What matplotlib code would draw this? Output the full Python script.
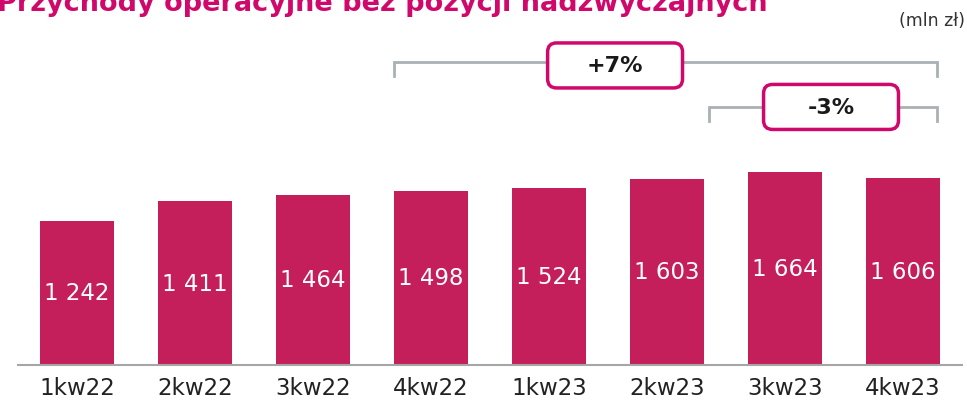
import matplotlib.pyplot as plt
from matplotlib.patches import FancyBboxPatch

# data
quarters = ['1kw22', '2kw22', '3kw22', '4kw22', '1kw23', '2kw23', '3kw23', '4kw23']
revenue = [1242, 1411, 1464, 1498, 1524, 1603, 1664, 1606]
labels = ['1 242', '1 411', '1 464', '1 498', '1 524', '1 603', '1 664', '1 606']

# comparison brackets: (text, first bar, last bar, level)
changes = [('+7%', 3, 7, 2604), ('-3%', 6, 7, 2221)]

bar_color = '#C41F5B'
pink = '#D1086B'
grey = '#A9B1B6'

W, H = 967, 410
fig = plt.figure(figsize=(W / 100, H / 100), dpi=100)
ax = fig.add_axes([18 / W, 44 / H, 944 / W, 366 / H])

x = list(range(len(quarters)))
bw = 0.62
ax.bar(x, revenue, width=bw, color=bar_color, zorder=2)

for i, (v, lab) in enumerate(zip(revenue, labels)):
    ax.text(i, v / 2, lab, ha='center', va='center', color='white', fontsize=16.5)

ax.set_xlim(-0.5, 7.5)
ax.set_ylim(0, 3150)
ax.set_xticks(x)
ax.set_xticklabels(quarters, fontsize=16.5, color='#222222')
ax.tick_params(axis='x', length=0, pad=8)
ax.set_yticks([])
for s in ['top', 'left', 'right']:
    ax.spines[s].set_visible(False)
ax.spines['bottom'].set_color('#A6A6A6')
ax.spines['bottom'].set_linewidth(1.5)

# brackets with rounded boxes
ypx = 3150 / 366  # data units per pixel vertically
xpx = 1 / 118.07  # data units per pixel horizontally
box_centers = {'+7%': 4.56, '-3%': 6.39}
for text, a, b, lvl in changes:
    left = a - bw / 2 if text == '+7%' else (a - 1) + bw / 2 + 0.05
    right = b + bw / 2 - 0.02
    drop = 14 * ypx
    ax.plot([left, left, right, right], [lvl - drop, lvl, lvl, lvl - drop],
            color=grey, lw=2, clip_on=False, zorder=1, solid_joinstyle='miter')
    cx = box_centers[text]
    bwid = 135 * xpx
    bht = 45 * ypx
    cy = lvl - 3 * ypx if text == '+7%' else lvl
    patch = FancyBboxPatch((cx - bwid / 2, cy - bht / 2), bwid, bht,
                           boxstyle='round,pad=0,rounding_size=%f' % (9 * xpx),
                           mutation_aspect=ypx / xpx,
                           facecolor='white', edgecolor=pink, lw=2.5,
                           clip_on=False, zorder=3)
    ax.add_patch(patch)
    ax.text(cx, cy, text, ha='center', va='center', fontsize=16,
            fontweight='bold', color='#1A1A1A', zorder=4)

fig.text(-3 / W, 1 - 11 / H, 'Przychody operacyjne bez pozycji nadzwyczajnych',
         ha='left', va='baseline', fontsize=19.5, fontweight='bold', color=pink)
fig.text(965 / W, 1 - 26 / H, '(mln zł)', ha='right', va='baseline',
         fontsize=12.5, color='#333333')

fig.savefig('out.png', dpi=100)
